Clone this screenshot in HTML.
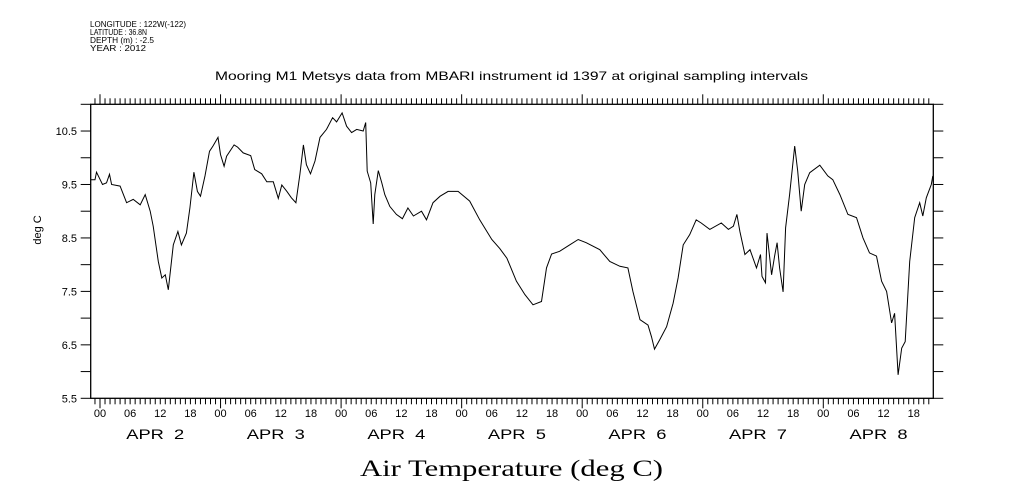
<!DOCTYPE html>
<html><head><meta charset="utf-8"><style>
body{margin:0;background:#fff}
svg{display:block;font-family:"Liberation Sans",sans-serif}
</style></head><body>
<svg id="chart" width="1009" height="504" viewBox="0 0 1009 504">
<g font-size="8.5" fill="#000">
<text x="90" y="27" textLength="96" lengthAdjust="spacingAndGlyphs">LONGITUDE : 122W(-122)</text>
<text x="90" y="35" textLength="57" lengthAdjust="spacingAndGlyphs">LATITUDE : 36.8N</text>
<text x="90" y="43" textLength="64" lengthAdjust="spacingAndGlyphs">DEPTH (m) : -2.5</text>
<text x="90" y="51" textLength="56" lengthAdjust="spacingAndGlyphs">YEAR : 2012</text>
</g>
<text x="215" y="80" textLength="593" lengthAdjust="spacingAndGlyphs" font-size="12">Mooring M1 Metsys data from MBARI instrument id 1397 at original sampling intervals</text>
<text x="360" y="476" textLength="303" lengthAdjust="spacingAndGlyphs" font-size="23" font-family="Liberation Serif,serif">Air Temperature (deg C)</text>
<text transform="translate(41,230) rotate(-90)" text-anchor="middle" font-size="11">deg C</text>
<rect x="90.7" y="104.3" width="842.6" height="294" fill="none" stroke="#000" stroke-width="1.3"/>
<g id="axes"></g>
<g id="series"></g>
</svg>
<script>
const hours=[-1.9,-1,-0.7,0.5,1.3,1.9,2.3,4,5.3,6.6,8,9,10,10.6,11.6,12.3,13,13.6,14.6,15.5,16.2,17.2,17.9,18.7,19.4,20,20.9,21.8,22.5,23.5,24,24.7,25.2,26.7,27.4,28.5,30,30.8,32.2,33.2,34.5,35.5,36.2,37.2,38.1,39,39.8,40.5,41.1,41.9,42.8,43.8,45.1,46.3,47.1,48.2,49.1,50.1,51.1,52.4,52.9,53.2,53.9,54.4,54.7,55.4,56.1,56.7,57.7,59,60.2,61.3,62.4,64,65,66.3,67.7,69.3,71.3,73.6,75.6,78,79.6,81,82.9,84.6,86.2,87.9,88.9,89.9,91.5,93.5,95.2,96.8,99.5,101.5,103.5,105.1,106.1,107.5,109.1,109.8,110.4,111.4,112.8,114.1,115.1,116.1,117.4,118.7,119.7,121.4,123.7,125.1,126.1,126.8,127.4,128.4,129.4,130.7,131.5,131.8,132.5,132.8,133.7,134.3,134.8,135.3,136,136.5,137.3,138.3,138.9,139.6,140.3,141.3,143.3,144.9,145.9,147.3,148.9,150.6,151.9,153.2,154.6,155.6,156.6,157.6,158.2,158.9,159.6,160.3,161.2,162.2,163.2,163.8,164.5,165.5,165.8];
const temps=[9.59,9.59,9.73,9.5,9.53,9.69,9.5,9.47,9.16,9.22,9.12,9.31,9.0,8.72,8.06,7.75,7.81,7.53,8.37,8.62,8.37,8.59,9.06,9.73,9.37,9.28,9.66,10.12,10.22,10.38,10.06,9.84,10.03,10.24,10.2,10.09,10.04,9.78,9.7,9.55,9.55,9.24,9.49,9.37,9.25,9.16,9.69,10.24,9.87,9.7,9.94,10.38,10.53,10.75,10.67,10.84,10.59,10.47,10.53,10.5,10.66,9.75,9.53,8.76,9.31,9.76,9.53,9.31,9.09,8.94,8.86,9.06,8.91,9.0,8.84,9.16,9.28,9.37,9.37,9.19,8.84,8.47,8.3,8.12,7.69,7.44,7.25,7.31,7.94,8.2,8.25,8.37,8.47,8.41,8.28,8.06,7.97,7.94,7.5,6.97,6.87,6.65,6.42,6.59,6.84,7.28,7.75,8.37,8.56,8.84,8.78,8.66,8.78,8.66,8.72,8.94,8.62,8.19,8.28,7.94,8.19,7.78,7.66,8.59,7.81,8.16,8.41,7.94,7.49,8.69,9.31,10.22,9.75,9.0,9.5,9.72,9.86,9.66,9.59,9.31,8.94,8.88,8.5,8.22,8.16,7.69,7.5,6.91,7.09,5.94,6.44,6.56,8.06,8.88,9.16,8.91,9.25,9.5,9.66];
const yTicks=[5.5,6.0,6.5,7.0,7.5,8.0,8.5,9.0,9.5,10.0,10.5,11.0];
const yLabels=["5.5","6.5","7.5","8.5","9.5","10.5"];
const hourLabels=["00","06","12","18"];
const dayLabels=["APR  2","APR  3","APR  4","APR  5","APR  6","APR  7","APR  8"];
const X0=100,PX_PER_H=120.55/24,L=90.7,R=933.3,T=104.3,B=398.3,VMIN=5.5,VMAX=11.0;
const xs=h=>X0+h*PX_PER_H;
const ys=v=>B-(v-VMIN)/(VMAX-VMIN)*(B-T);
const NS="http://www.w3.org/2000/svg";
const ax=document.getElementById('axes');
function mk(tag,attrs,parent){const e=document.createElementNS(NS,tag);for(const k in attrs)e.setAttribute(k,attrs[k]);parent.appendChild(e);return e;}
for(let h=-1;h<=165;h++){
  const x=xs(h);const major=((h%24)+24)%24===0;const len=major?10:6;
  const t1=mk('line',{x1:x,x2:x,y1:B,y2:B+len,stroke:'#000','stroke-width':1},ax);
  
  
  const t2=mk('line',{x1:x,x2:x,y1:T,y2:T-len,stroke:'#000','stroke-width':1},ax);
  
  
  if(((h%6)+6)%6===0){
    const lb=mk('text',{x:x,y:417,'text-anchor':'middle','font-size':11},ax);
    lb.textContent=hourLabels[(((h%24)+24)%24)/6];
    
    
  }
}
dayLabels.forEach((d,i)=>{
  const cx=xs(i*24+11);
  const t=mk('text',{x:cx-29,y:439,'font-size':14,textLength:58,lengthAdjust:'spacingAndGlyphs'},ax);
  t.style.whiteSpace='pre';
  t.textContent=d;
  
  
});
yTicks.forEach(v=>{
  const y=ys(v);
  const a=mk('line',{x1:L-10,x2:L,y1:y,y2:y,stroke:'#000','stroke-width':1},ax);
  
  
  const b=mk('line',{x1:R,x2:R+10,y1:y,y2:y,stroke:'#000','stroke-width':1},ax);
  
  
});
yLabels.forEach(s=>{
  const t=mk('text',{x:77,y:ys(parseFloat(s))+4,'text-anchor':'end','font-size':11},ax);
  t.textContent=s;
  
  
});
const d=hours.map((h,i)=>(i?'L':'M')+xs(h).toFixed(1)+' '+ys(temps[i]).toFixed(1)).join(' ');
const p=mk('path',{d:d,fill:'none',stroke:'#000','stroke-width':1},document.getElementById('series'));


</script>
</body></html>
